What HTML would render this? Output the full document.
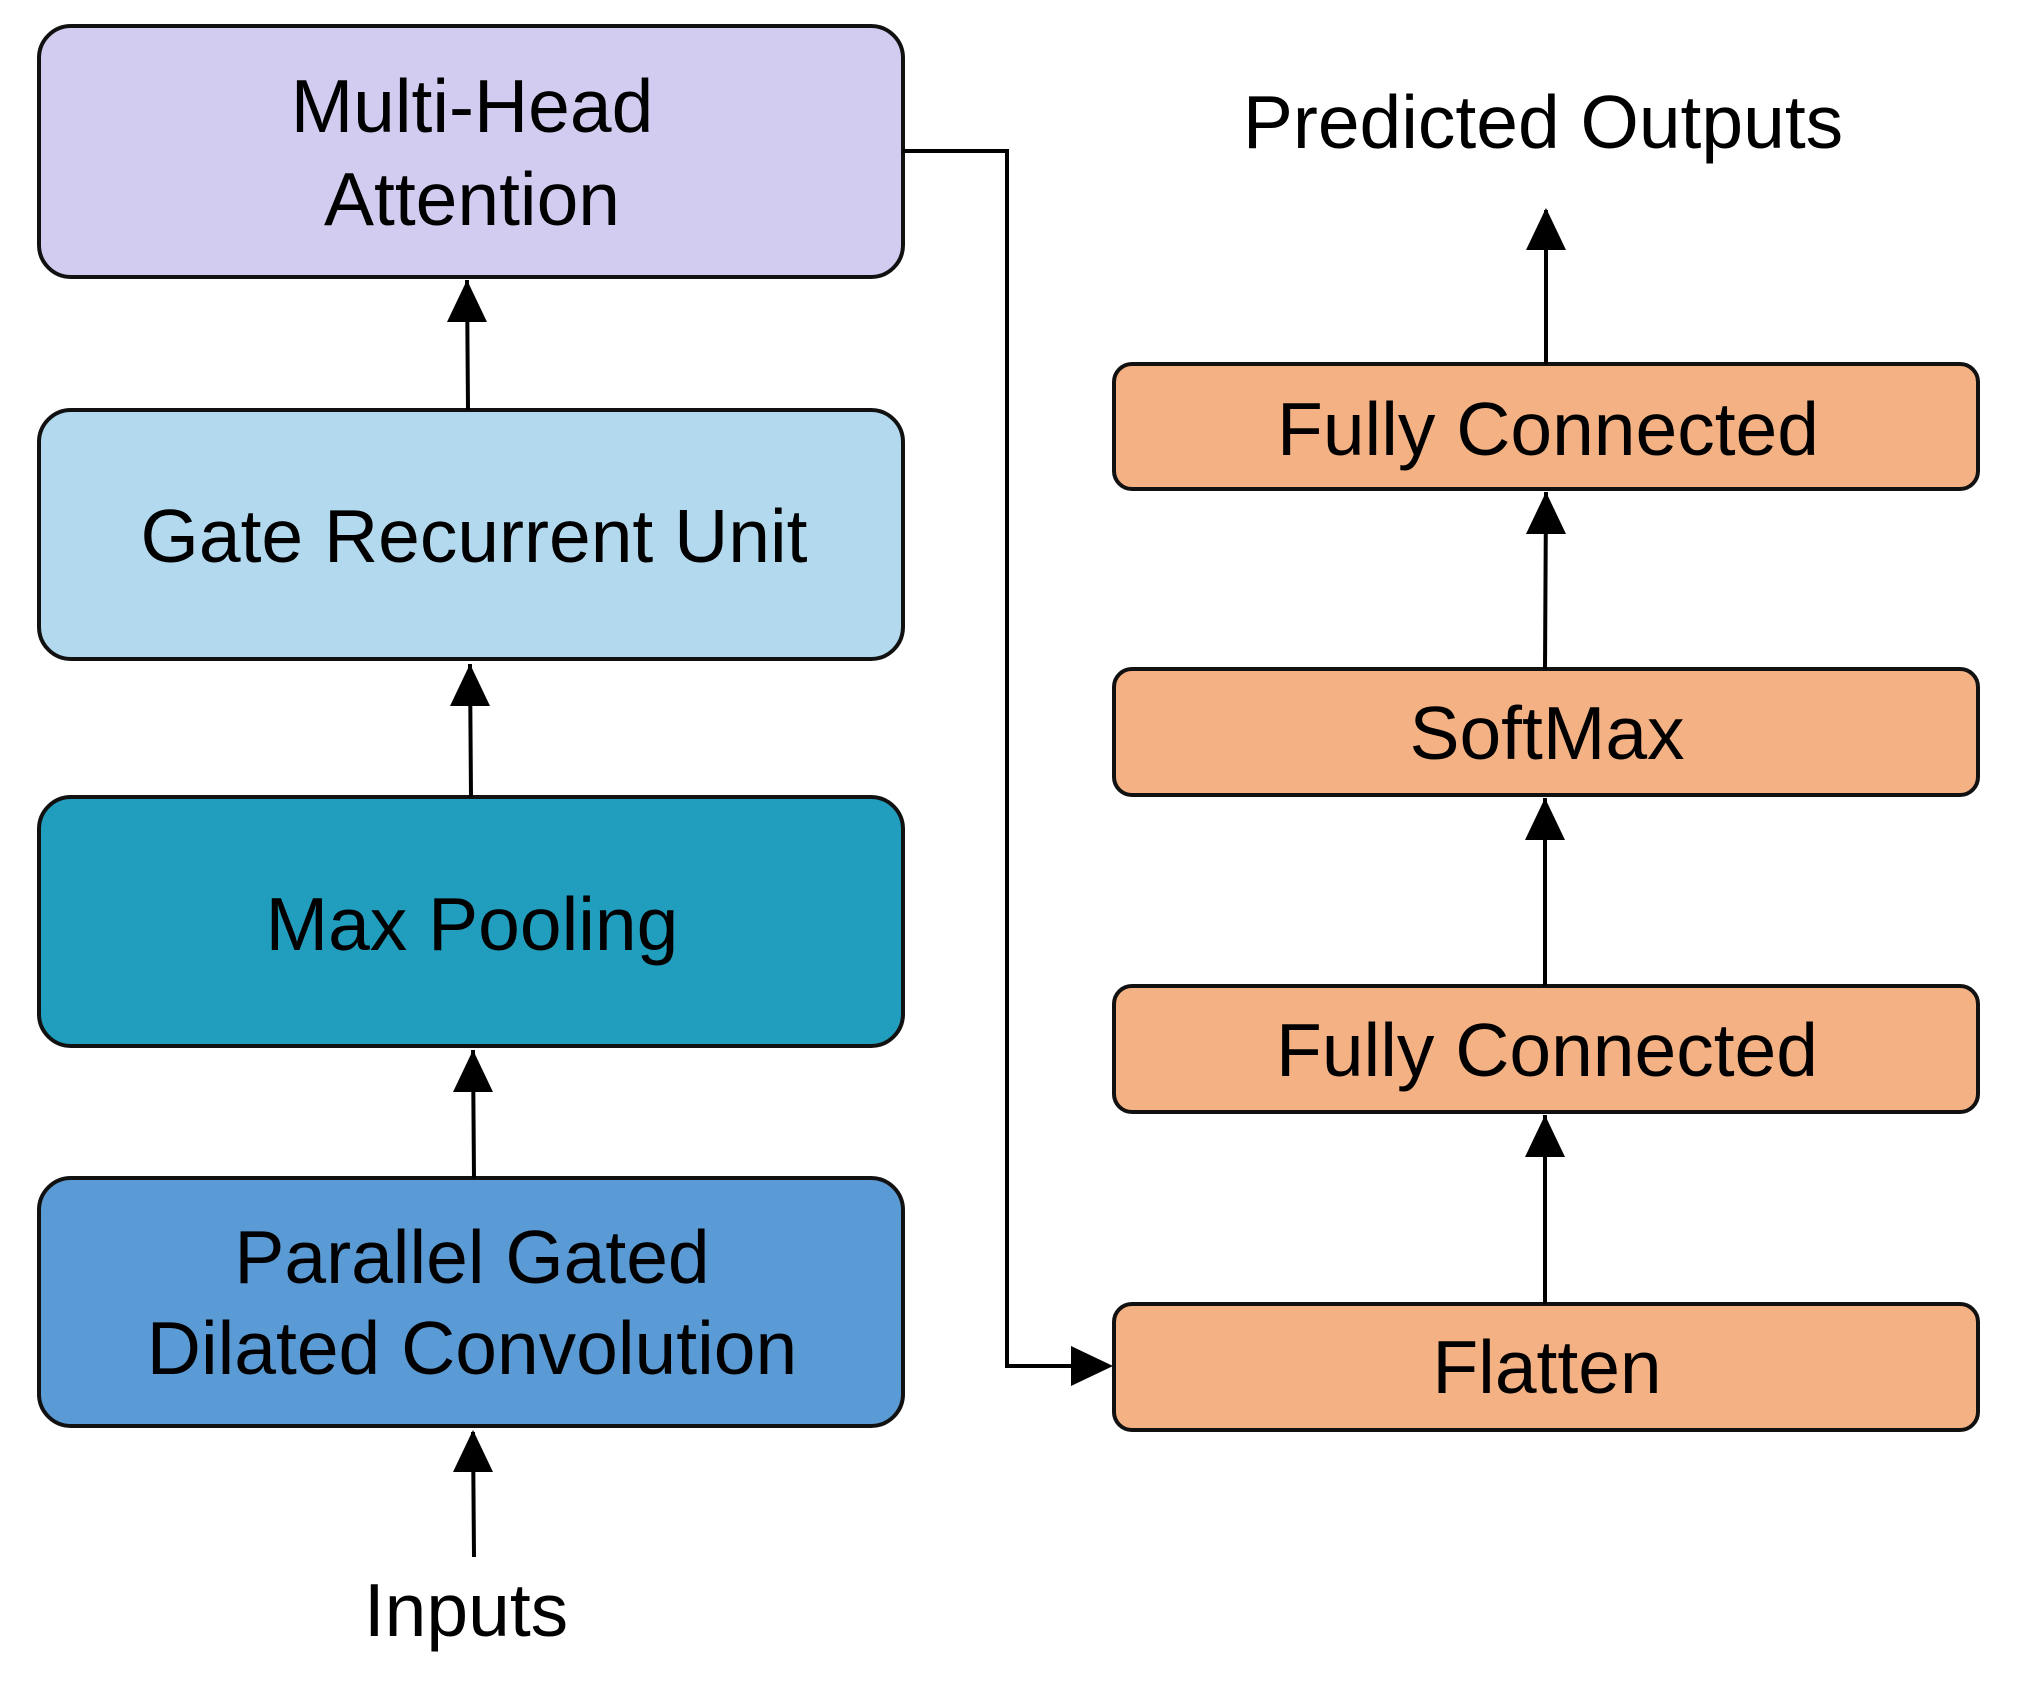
<!DOCTYPE html>
<html><head><meta charset="utf-8"><style>html,body{margin:0;padding:0;background:#fff}svg{display:block}</style></head>
<body>
<svg width="2019" height="1687" viewBox="0 0 2019 1687" xmlns="http://www.w3.org/2000/svg" font-family="'Liberation Sans', Arial, sans-serif" font-size="75" text-anchor="middle">
<g stroke="#111" stroke-width="4">
<rect x="39" y="26" width="864" height="251" rx="32" fill="#d2cdf0"/>
<rect x="39" y="410" width="864" height="249" rx="32" fill="#b3d9ee"/>
<rect x="39" y="797" width="864" height="249" rx="32" fill="#219dbe"/>
<rect x="39" y="1178" width="864" height="248" rx="32" fill="#5b9bd5"/>
<rect x="1114" y="364" width="864" height="125" rx="18" fill="#f4b183"/>
<rect x="1114" y="669" width="864" height="126" rx="18" fill="#f4b183"/>
<rect x="1114" y="986" width="864" height="126" rx="18" fill="#f4b183"/>
<rect x="1114" y="1304" width="864" height="126" rx="18" fill="#f4b183"/>
</g>
<g stroke="#000" stroke-width="4" fill="none">
<line x1="468" y1="410" x2="467" y2="280"/>
<line x1="471" y1="797" x2="470" y2="664"/>
<line x1="474" y1="1178" x2="473" y2="1050"/>
<line x1="474" y1="1557" x2="473" y2="1432"/>
<line x1="1546" y1="364" x2="1546" y2="210"/>
<line x1="1545" y1="669" x2="1546" y2="492"/>
<line x1="1545" y1="986" x2="1545" y2="798"/>
<line x1="1545" y1="1304" x2="1545" y2="1115"/>
<polyline points="903,151 1007,151 1007,1366 1080,1366"/>
</g>
<g fill="#000">
<path d="M467,280 l-20,42 h40 z"/>
<path d="M470,664 l-20,42 h40 z"/>
<path d="M473,1050 l-20,42 h40 z"/>
<path d="M473,1430 l-20,42 h40 z"/>
<path d="M1546,208 l-20,42 h40 z"/>
<path d="M1546,492 l-20,42 h40 z"/>
<path d="M1545,798 l-20,42 h40 z"/>
<path d="M1545,1115 l-20,42 h40 z"/>
<path d="M1113,1366 l-42,-20 v40 z"/>
</g>
<g fill="#000">
<text x="472" y="132">Multi-Head</text>
<text x="472" y="225">Attention</text>
<text x="474" y="562">Gate Recurrent Unit</text>
<text x="472" y="950">Max Pooling</text>
<text x="472" y="1283">Parallel Gated</text>
<text x="472" y="1374">Dilated Convolution</text>
<text x="1548" y="455">Fully Connected</text>
<text x="1547" y="759">SoftMax</text>
<text x="1547" y="1076">Fully Connected</text>
<text x="1547" y="1393">Flatten</text>
<text x="1543" y="148">Predicted Outputs</text>
<text x="466" y="1636">Inputs</text>
</g>
</svg>
</body></html>
